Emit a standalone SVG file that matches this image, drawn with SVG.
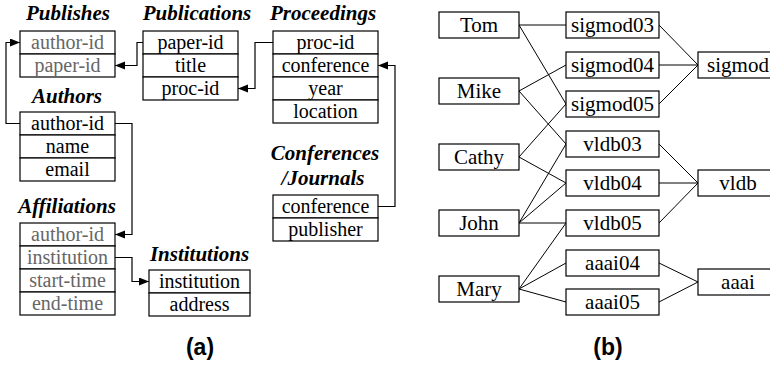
<svg xmlns="http://www.w3.org/2000/svg" width="770" height="366" viewBox="0 0 770 366" font-family="Liberation Serif, serif">
<defs>
<marker id="ah" markerUnits="userSpaceOnUse" markerWidth="11" markerHeight="9" refX="10" refY="4" orient="auto">
<path d="M0,0 L10,4 L0,8 z" fill="#000"/>
</marker>
<style>
.box{fill:#fff;stroke:#000;stroke-width:1.2}
.t{font-family:"Liberation Serif",serif;font-size:20px;text-anchor:middle;fill:#000}
.nb{font-size:21px}
.g{fill:#666}
.ttl{font-family:"Liberation Serif",serif;font-size:21px;font-weight:bold;font-style:italic;text-anchor:middle;fill:#000}
.edge{stroke:#000;stroke-width:1.2;fill:none}
.lbl{font-family:"Liberation Sans",Arial,sans-serif;font-size:23px;font-weight:bold;text-anchor:middle}
</style>
</defs>
<rect width="770" height="366" fill="#fff"/>

<g id="connectors">
<polyline class="edge" points="20,123.5 6,123.5 6,42.5 20,42.5" marker-end="url(#ah)"/>
<polyline class="edge" points="143,42.5 137,42.5 137,65.5 115,65.5" marker-end="url(#ah)"/>
<polyline class="edge" points="273,42.5 255,42.5 255,88.5 238,88.5" marker-end="url(#ah)"/>
<polyline class="edge" points="378,206.5 395,206.5 395,65.5 378,65.5" marker-end="url(#ah)"/>
<polyline class="edge" points="115,123.5 132,123.5 132,234.5 115,234.5" marker-end="url(#ah)"/>
<polyline class="edge" points="115,257.5 132,257.5 132,281.5 149,281.5" marker-end="url(#ah)"/>
<g stroke="#000" stroke-width="1">
<line x1="519" y1="25" x2="566" y2="25"/>
<line x1="519" y1="25" x2="566" y2="104"/>
<line x1="519" y1="91" x2="566" y2="65"/>
<line x1="519" y1="91" x2="566" y2="144"/>
<line x1="519" y1="157" x2="566" y2="104"/>
<line x1="519" y1="157" x2="566" y2="183"/>
<line x1="519" y1="223" x2="566" y2="144"/>
<line x1="519" y1="223" x2="566" y2="183"/>
<line x1="519" y1="223" x2="566" y2="223"/>
<line x1="519" y1="289" x2="566" y2="223"/>
<line x1="519" y1="289" x2="566" y2="263"/>
<line x1="519" y1="289" x2="566" y2="302"/>
<line x1="659" y1="25" x2="698" y2="65"/>
<line x1="659" y1="65" x2="698" y2="65"/>
<line x1="659" y1="104" x2="698" y2="65"/>
<line x1="659" y1="144" x2="698" y2="183"/>
<line x1="659" y1="183" x2="698" y2="183"/>
<line x1="659" y1="223" x2="698" y2="183"/>
<line x1="659" y1="263" x2="698" y2="282"/>
<line x1="659" y1="302" x2="698" y2="282"/>
</g>
</g>

<g id="publishes">
<text class="ttl g" x="68" y="20">Publishes</text>
<rect class="box" x="20" y="31" width="95" height="23"/>
<rect class="box" x="20" y="54" width="95" height="23"/>
<text class="t g" x="67.5" y="49">author-id</text>
<text class="t g" x="67.5" y="72">paper-id</text>
</g>

<g id="publications">
<text class="ttl" x="197" y="20">Publications</text>
<rect class="box" x="143" y="31" width="95" height="23"/>
<rect class="box" x="143" y="54" width="95" height="23"/>
<rect class="box" x="143" y="77" width="95" height="23"/>
<text class="t" x="190.5" y="49">paper-id</text>
<text class="t" x="190.5" y="72">title</text>
<text class="t" x="190.5" y="95">proc-id</text>
</g>

<g id="proceedings">
<text class="ttl" x="323" y="20">Proceedings</text>
<rect class="box" x="273" y="31" width="105" height="23"/>
<rect class="box" x="273" y="54" width="105" height="23"/>
<rect class="box" x="273" y="77" width="105" height="23"/>
<rect class="box" x="273" y="100" width="105" height="23"/>
<text class="t" x="325.5" y="49">proc-id</text>
<text class="t" x="325.5" y="72">conference</text>
<text class="t" x="325.5" y="95">year</text>
<text class="t" x="325.5" y="118">location</text>
</g>

<g id="conferences">
<text class="ttl" x="325" y="160">Conferences</text>
<text class="ttl" x="323" y="185">/Journals</text>
<rect class="box" x="273" y="195" width="105" height="23"/>
<rect class="box" x="273" y="218" width="105" height="23"/>
<text class="t" x="325.5" y="213">conference</text>
<text class="t" x="325.5" y="236">publisher</text>
</g>

<g id="authors">
<text class="ttl" x="67" y="103">Authors</text>
<rect class="box" x="20" y="112" width="95" height="23"/>
<rect class="box" x="20" y="135" width="95" height="23"/>
<rect class="box" x="20" y="158" width="95" height="23"/>
<text class="t" x="67.5" y="130">author-id</text>
<text class="t" x="67.5" y="153">name</text>
<text class="t" x="67.5" y="176">email</text>
</g>

<g id="affiliations">
<text class="ttl g" x="67" y="213">Affiliations</text>
<rect class="box" x="20" y="223" width="95" height="23"/>
<rect class="box" x="20" y="246" width="95" height="23"/>
<rect class="box" x="20" y="269" width="95" height="23"/>
<rect class="box" x="20" y="292" width="95" height="23"/>
<text class="t g" x="67.5" y="241">author-id</text>
<text class="t g" x="67.5" y="264">institution</text>
<text class="t g" x="67.5" y="287">start-time</text>
<text class="t g" x="67.5" y="310">end-time</text>
</g>

<g id="institutions">
<text class="ttl" x="199.5" y="261">Institutions</text>
<rect class="box" x="149" y="270" width="101" height="23"/>
<rect class="box" x="149" y="293" width="101" height="23"/>
<text class="t" x="199.5" y="288">institution</text>
<text class="t" x="199.5" y="311">address</text>
</g>

<text class="lbl" x="200" y="355">(a)</text>

<g id="tom"><rect class="box" x="439" y="12" width="80" height="26"/><text class="t nb" x="479" y="32">Tom</text></g>
<g id="mike"><rect class="box" x="439" y="78" width="80" height="26"/><text class="t nb" x="479" y="98">Mike</text></g>
<g id="cathy"><rect class="box" x="439" y="144" width="80" height="26"/><text class="t nb" x="479" y="164">Cathy</text></g>
<g id="john"><rect class="box" x="439" y="210" width="80" height="26"/><text class="t nb" x="479" y="230">John</text></g>
<g id="mary"><rect class="box" x="439" y="276" width="80" height="26"/><text class="t nb" x="479" y="296">Mary</text></g>

<g id="sigmod03"><rect class="box" x="566" y="12" width="93" height="26"/><text class="t nb" x="612.5" y="32">sigmod03</text></g>
<g id="sigmod04"><rect class="box" x="566" y="52" width="93" height="26"/><text class="t nb" x="612.5" y="72">sigmod04</text></g>
<g id="sigmod05"><rect class="box" x="566" y="91" width="93" height="26"/><text class="t nb" x="612.5" y="111">sigmod05</text></g>
<g id="vldb03"><rect class="box" x="566" y="131" width="93" height="26"/><text class="t nb" x="612.5" y="151">vldb03</text></g>
<g id="vldb04"><rect class="box" x="566" y="170" width="93" height="26"/><text class="t nb" x="612.5" y="190">vldb04</text></g>
<g id="vldb05"><rect class="box" x="566" y="210" width="93" height="26"/><text class="t nb" x="612.5" y="230">vldb05</text></g>
<g id="aaai04"><rect class="box" x="566" y="250" width="93" height="26"/><text class="t nb" x="612.5" y="270">aaai04</text></g>
<g id="aaai05"><rect class="box" x="566" y="289" width="93" height="26"/><text class="t nb" x="612.5" y="309">aaai05</text></g>

<g id="sigmod"><rect class="box" x="698" y="52" width="80" height="26"/><text class="t nb" x="738" y="72">sigmod</text></g>
<g id="vldb"><rect class="box" x="698" y="170" width="80" height="26"/><text class="t nb" x="738" y="190">vldb</text></g>
<g id="aaai"><rect class="box" x="698" y="269" width="80" height="26"/><text class="t nb" x="738" y="289">aaai</text></g>

<text class="lbl" x="608" y="355">(b)</text>
</svg>
